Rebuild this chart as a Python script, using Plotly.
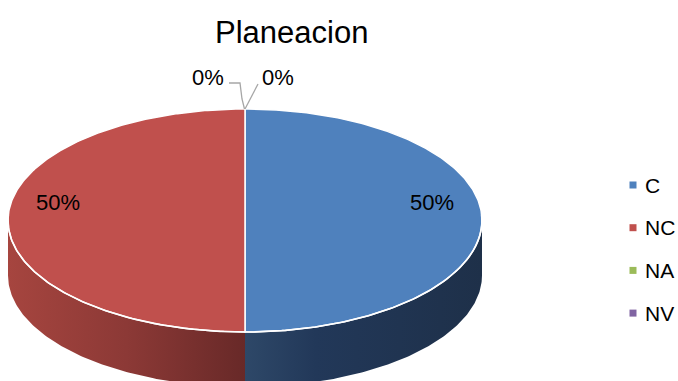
import numpy as np
import plotly.graph_objects as go

# Chart data
title = "Planeacion"
categories = ["C", "NC", "NA", "NV"]
values = [1, 1, 0, 0]

# Slice styling (top face colour, side gradient left -> right)
top_colors = ["#4F81BD", "#C0504D", "#9BBB59", "#8064A2"]
side_gradients = [
    [[0, "#2E4868"], [0.3, "#223859"], [1, "#1E3049"]],
    [[0, "#A6453F"], [0.5, "#8C3936"], [1, "#682928"]],
    [[0, "#7A9343"], [1, "#4E5E2B"]],
    [[0, "#634E80"], [1, "#3F3252"]],
]

FONT = "Arial, Liberation Sans, sans-serif"

# Pie geometry in page pixels (tilted disc, orthographic)
CX, CY, RX, RY, DEPTH = 245, 220.5, 237, 111.5, 55


def rim(theta, drop=0.0):
    theta = np.asarray(theta)
    return CX + RX * np.sin(theta), CY - RY * np.cos(theta) + drop


total = float(sum(values))
fracs = [v / total for v in values]
starts = np.cumsum([0] + fracs[:-1]) * 2 * np.pi
ends = np.cumsum(fracs) * 2 * np.pi

fig = go.Figure()

# Side walls (visible front half: angles pi/2 .. 3pi/2)
for i, (a0, a1) in enumerate(zip(starts, ends)):
    if a1 - a0 <= 0:
        continue
    s0, s1 = max(a0, np.pi / 2), min(a1, 3 * np.pi / 2)
    if s1 <= s0:
        continue
    t = np.linspace(s0, s1, 120)
    xt, yt = rim(t)
    xb, yb = rim(t[::-1], DEPTH)
    fig.add_trace(go.Scatter(
        x=np.concatenate([xt, xb, xt[:1]]),
        y=np.concatenate([yt, yb, yt[:1]]),
        mode="lines", fill="toself",
        line=dict(width=0),
        fillgradient=dict(type="horizontal", colorscale=side_gradients[i]),
        hoverinfo="skip", showlegend=False,
    ))

# Top faces
for i, (a0, a1) in enumerate(zip(starts, ends)):
    if a1 - a0 <= 0:
        continue
    t = np.linspace(a0, a1, 240)
    x, y = rim(t)
    fig.add_trace(go.Scatter(
        x=np.concatenate([[CX], x, [CX]]),
        y=np.concatenate([[CY], y, [CY]]),
        mode="lines", fill="toself", fillcolor=top_colors[i],
        line=dict(width=1.5, color="white"),
        hoverinfo="skip", showlegend=False,
    ))

# White highlight along the front rim
t = np.linspace(np.pi / 2 - 0.05, 3 * np.pi / 2 + 0.05, 200)
xr, yr = rim(t)
fig.add_trace(go.Scatter(x=xr, y=yr, mode="lines",
                         line=dict(width=1.6, color="white"),
                         hoverinfo="skip", showlegend=False))

annotations = [dict(text=title, x=291, y=32, xref="x", yref="y",
                    showarrow=False, font=dict(family=FONT, size=31, color="black"))]

# Percentage labels
zero_side = -1
for i, (a0, a1) in enumerate(zip(starts, ends)):
    pct = f"{round(fracs[i] * 100)}%"
    if a1 - a0 > 0:
        mid = (a0 + a1) / 2
        lx = CX + 0.79 * RX * np.sin(mid)
        ly = CY - 0.79 * RY * np.cos(mid) - 18
        annotations.append(dict(text=pct, x=lx, y=ly, xref="x", yref="y",
                                showarrow=False,
                                font=dict(family=FONT, size=22, color="black")))
    else:
        # Empty slices get an outside label with a leader line
        ax, ay = rim(a0)
        if zero_side < 0:
            lx, ly = ax - 37, ay - 32
            px = [ax - 0.5, ax - 3, ax - 5, ax - 16]
            py = [ay, ay - 10, ay - 26, ay - 26]
        else:
            lx, ly = ax + 33, ay - 32
            px = [ax, ax + 13]
            py = [ay, ay - 25]
        fig.add_trace(go.Scatter(x=px, y=py, mode="lines",
                                 line=dict(width=1.3, color="#A6A6A6"),
                                 hoverinfo="skip", showlegend=False))
        annotations.append(dict(text=pct, x=lx, y=ly, xref="x", yref="y",
                                showarrow=False,
                                font=dict(family=FONT, size=22, color="black")))
        zero_side = -zero_side

# Legend
leg_y = [185 + 42.7 * k for k in range(len(categories))]
fig.add_trace(go.Scatter(
    x=[633] * len(categories), y=leg_y, mode="markers",
    marker=dict(symbol="square", size=7, color=top_colors, line=dict(width=0)),
    hoverinfo="skip", showlegend=False,
))
for k, cat in enumerate(categories):
    annotations.append(dict(text=cat, x=643, y=leg_y[k], xref="x", yref="y",
                            xanchor="left", showarrow=False,
                            font=dict(family=FONT, size=21, color="black")))

fig.update_layout(
    width=678, height=381,
    margin=dict(l=0, r=0, t=0, b=0),
    paper_bgcolor="white", plot_bgcolor="white",
    xaxis=dict(range=[0, 678], visible=False, fixedrange=True),
    yaxis=dict(range=[381, 0], visible=False, fixedrange=True),
    annotations=annotations,
    showlegend=False,
)

fig.write_html("out.html")
